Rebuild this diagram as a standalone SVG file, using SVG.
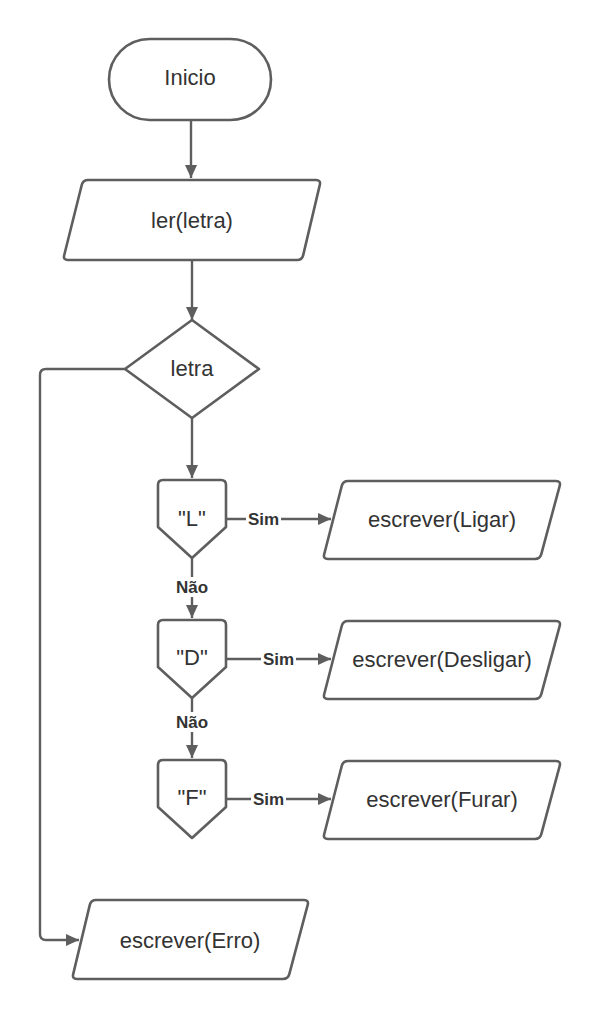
<svg xmlns="http://www.w3.org/2000/svg" width="603" height="1020" viewBox="0 0 603 1020">
<style>
.shape{fill:#ffffff;stroke:#5e5e5e;stroke-width:2.6;stroke-linejoin:round}
.edge{fill:none;stroke:#5e5e5e;stroke-width:2.4}
.t{font-family:"Liberation Sans",Arial,sans-serif;font-size:22px;fill:#333333;text-anchor:middle}
.lbl{font-family:"Liberation Sans",Arial,sans-serif;font-size:17px;font-weight:bold;fill:#333333;text-anchor:middle}
.bg{fill:#ffffff}
</style>
<defs>
<marker id="arr" markerUnits="userSpaceOnUse" markerWidth="14" markerHeight="14" viewBox="0 0 14 14" refX="13" refY="7" orient="auto">
<path d="M0,1 L13,7 L0,13 Z" fill="#5e5e5e"/>
</marker>
</defs>
<rect width="603" height="1020" fill="#ffffff"/>
<g id="connectors">
<path class="edge" d="M191,120 V178" marker-end="url(#arr)"/>
<path class="edge" d="M192,260 V320" marker-end="url(#arr)"/>
<path class="edge" d="M192,418 V478" marker-end="url(#arr)"/>
<path class="edge" d="M192,558 V618" marker-end="url(#arr)"/>
<path class="edge" d="M192,698 V758" marker-end="url(#arr)"/>
<path class="edge" d="M125,369 H46 Q40,369 40,375 V934 Q40,940 46,940 H79" marker-end="url(#arr)"/>
<path class="edge" d="M226,519 H331" marker-end="url(#arr)"/>
<path class="edge" d="M226,659 H331" marker-end="url(#arr)"/>
<path class="edge" d="M226,799 H331" marker-end="url(#arr)"/>
<rect class="bg" x="246" y="509" width="35" height="19"/>
<text class="lbl" x="263.5" y="525">Sim</text>
<rect class="bg" x="261" y="649" width="35" height="19"/>
<text class="lbl" x="278.5" y="665">Sim</text>
<rect class="bg" x="251" y="789" width="35" height="19"/>
<text class="lbl" x="268.5" y="805">Sim</text>
<rect class="bg" x="174" y="577" width="36" height="20"/>
<text class="lbl" x="192" y="593">Não</text>
<rect class="bg" x="174" y="712" width="36" height="20"/>
<text class="lbl" x="192" y="728">Não</text>
</g>
<g id="inicio">
<rect class="shape" x="109" y="39" width="162" height="81" rx="40.5"/>
<text class="t" x="190" y="85">Inicio</text>
</g>
<g id="ler">
<path class="shape" d="M88,180 H316 Q321,180 319.8,184.9 L303.2,255.1 Q302,260 297,260 H68 Q63,260 64.2,255.2 L81.8,184.8 Q83,180 88,180 Z"/>
<text class="t" x="192" y="228">ler(letra)</text>
</g>
<g id="decisao-letra">
<polygon class="shape" points="192,320 259,369 192,418 125,369"/>
<text class="t" x="192" y="376">letra</text>
</g>
<g id="caso-L">
<path class="shape" d="M163,480 H221 Q226,480 226,485 V527 L192,558 L158,527 V485 Q158,480 163,480 Z"/>
<text class="t" x="192" y="526">"L"</text>
</g>
<g id="caso-D">
<path class="shape" d="M163,620 H221 Q226,620 226,625 V667 L192,698 L158,667 V625 Q158,620 163,620 Z"/>
<text class="t" x="192" y="665">"D"</text>
</g>
<g id="caso-F">
<path class="shape" d="M163,760 H221 Q226,760 226,765 V807 L192,838 L158,807 V765 Q158,760 163,760 Z"/>
<text class="t" x="192" y="805">"F"</text>
</g>
<g id="ligar">
<path class="shape" d="M348,481 H556 Q561,481 559.7,485.8 L541.3,554.2 Q540,559 535,559 H328 Q323,559 324.2,554.2 L341.8,485.8 Q343,481 348,481 Z"/>
<text class="t" x="442" y="527">escrever(Ligar)</text>
</g>
<g id="desligar">
<path class="shape" d="M348,621 H556 Q561,621 559.7,625.8 L541.3,694.2 Q540,699 535,699 H328 Q323,699 324.2,694.2 L341.8,625.8 Q343,621 348,621 Z"/>
<text class="t" x="442" y="667">escrever(Desligar)</text>
</g>
<g id="furar">
<path class="shape" d="M348,761 H556 Q561,761 559.7,765.8 L541.3,834.2 Q540,839 535,839 H328 Q323,839 324.2,834.2 L341.8,765.8 Q343,761 348,761 Z"/>
<text class="t" x="442" y="807">escrever(Furar)</text>
</g>
<g id="erro">
<path class="shape" d="M96,900 H304 Q309,900 307.7,904.8 L289.3,974.2 Q288,979 283,979 H77 Q72,979 73.2,974.1 L89.8,904.9 Q91,900 96,900 Z"/>
<text class="t" x="190" y="948">escrever(Erro)</text>
</g>
</svg>
